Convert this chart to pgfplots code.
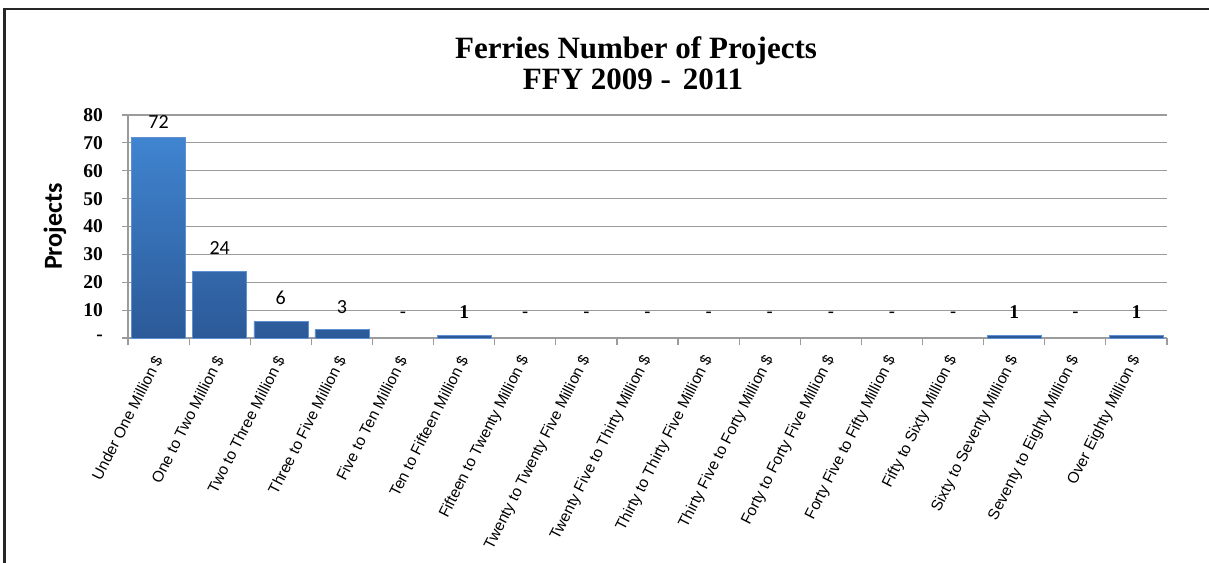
\documentclass[border=0pt]{standalone}
\usepackage{pgfplots}
\pgfplotsset{compat=1.18}
\usepackage{fontspec}
\setmainfont{Liberation Serif}
\newfontfamily\arial{Liberation Sans}
\newfontfamily\calibri{Carlito}
\definecolor{bartop}{RGB}{64,132,208}
\definecolor{barbot}{RGB}{44,90,152}
\definecolor{baredge}{RGB}{95,145,210}
\definecolor{gridc}{RGB}{155,155,155}

\begin{document}
\begin{tikzpicture}
\path[use as bounding box] (0pt,0pt) rectangle (1209pt,562pt);
\draw[line width=2.2pt, black!85] (4.5pt,-2pt) -- (4.5pt,553pt) -- (1212pt,553pt);
\node[anchor=base, font=\fontsize{31}{33}\selectfont\bfseries] at (636pt,503.7pt) {Ferries Number of Projects};
\node[anchor=base, font=\fontsize{31}{33}\selectfont\bfseries] at (633pt,472pt) {FFY 2009 -\hspace{4pt} 2011};
\begin{axis}[
 at={(128pt,224pt)}, anchor=south west,
 width=1039pt, height=223pt, scale only axis,
 xmin=-0.5, xmax=16.5, ymin=0, ymax=80,
 axis x line*=bottom, axis y line*=left,
 axis line style={gridc, line width=1.2pt, -},
 tick align=outside,
 ytick={0,10,...,80},
 yticklabels={-,10,20,30,40,50,60,70,80},
 ymajorgrids, grid style={gridc, line width=1.2pt},
 tick style={gridc, line width=1.2pt},
 major tick length=6pt, minor tick length=7pt,
 xtick={0,...,16},
 minor xtick={-0.5,0.5,...,16.5},
 major x tick style={draw=none},
 xticklabels={Under One Million \$, One to Two Million \$, Two to Three Million \$,
  Three to Five Million \$, Five to Ten Million \$, Ten to Fifteen Million \$,
  Fifteen to Twenty Million \$, Twenty to Twenty Five Million \$,
  Twenty Five to Thirty Million \$, Thirty to Thirty Five Million \$,
  Thirty Five to Forty Million \$, Forty to Forty Five Million \$,
  Forty Five to Fifty Million \$, Fifty to Sixty Million \$,
  Sixty to  Seventy Million \$, Seventy to Eighty Million \$, Over Eighty Million \$},
 xticklabel style={font=\arial\fontsize{15.5}{17}\selectfont, rotate=63, anchor=east, inner sep=0pt},
 xticklabel shift=13pt,
 yticklabel style={font=\fontsize{19.5}{21}\selectfont\bfseries, inner sep=0pt},
 yticklabel shift=19pt,
 ylabel={Projects},
 ylabel style={font=\calibri\bfseries\fontsize{26}{28}\selectfont,
  at={(axis description cs:-0.0703,0.5)}, anchor=center},
]
\addplot[ybar, bar width=54pt, bar shift=0pt, draw=baredge, line width=0.5pt,
 top color=bartop, bottom color=barbot]
 coordinates {(0,72) (1,24) (2,6) (3,3) (5,1) (14,1) (16,1)};
% data labels
\addplot[draw=none, mark=none, forget plot, point meta=explicit symbolic, nodes near coords,
 every node near coord/.append style={anchor=center, yshift=15.6pt, font=\calibri\fontsize{20}{22}\selectfont}]
 coordinates {(0,72)[72]};
\addplot[draw=none, mark=none, forget plot, point meta=explicit symbolic, nodes near coords,
 every node near coord/.append style={anchor=center, yshift=23pt, font=\calibri\fontsize{20}{22}\selectfont}]
 coordinates {(1,24)[24] (2,6)[6] (3,3)[3] (4,0)[-] (6,0)[-] (7,0)[-] (8,0)[-] (9,0)[-]
  (10,0)[-] (11,0)[-] (12,0)[-] (13,0)[-] (15,0)[-]};
\addplot[draw=none, mark=none, forget plot, point meta=explicit symbolic, nodes near coords,
 every node near coord/.append style={anchor=center, yshift=23pt, font=\fontsize{19.5}{21}\selectfont\bfseries}]
 coordinates {(5,1)[1] (14,1)[1] (16,1)[1]};
\end{axis}
\end{tikzpicture}
\end{document}
